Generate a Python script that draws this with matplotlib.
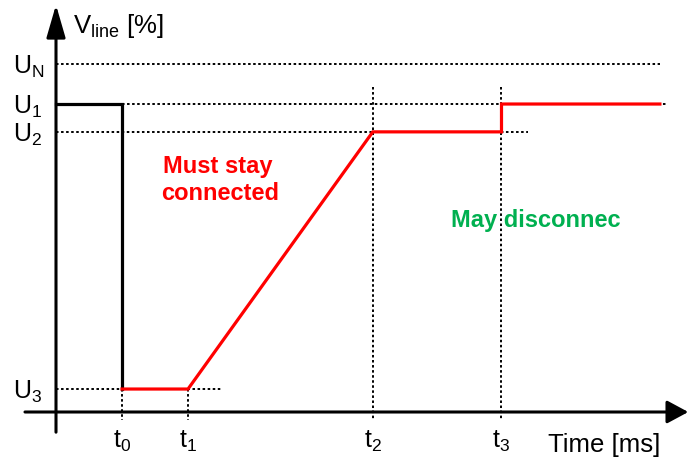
import matplotlib
matplotlib.use("Agg")
import matplotlib.pyplot as plt

plt.rcParams['font.family'] = ['Liberation Sans', 'DejaVu Sans']
plt.rcParams['mathtext.fontset'] = 'custom'
plt.rcParams['mathtext.rm'] = 'Liberation Sans'
plt.rcParams['mathtext.it'] = 'Liberation Sans'

# tiempos caracteristicos (ms) y niveles de tension (%)
t_names = ["t_0", "t_1", "t_2", "t_3"]
t_vals = [10, 20, 48, 67.5]
t_end = 91.5
u_names = ["U_N", "U_1", "U_2", "U_3"]
u_vals = [100, 88.5, 80.5, 6.6]

UN, U1, U2, U3 = u_vals
t0, t1, t2, t3 = t_vals

# curva negra (antes de la falla) y curva roja (perfil minimo)
black_t = [0, t0, t0]
black_v = [U1, U1, U3]
red_t = [t0, t1, t2, t3, t3, t_end]
red_v = [U3, U3, U2, U2, U1, U1]

fig = plt.figure(figsize=(6.89, 4.59), dpi=100)
ax = fig.add_axes([0, 0, 1, 1])
# escala: 6.6 px por ms, 3.48 px por %
ax.set_xlim(-56 / 6.6, (689 - 56) / 6.6)
ax.set_ylim(-(459 - 412) / 3.48, 412 / 3.48)
ax.axis('off')

dot = dict(color='black', lw=1.4, ls=(0, (1.3, 1.3)))
ax.plot([0, t_end], [UN, UN], **dot)
ax.plot([t0, t_end + 1.1], [U1, U1], **dot)
ax.plot([0, t3 + 4], [U2, U2], **dot)
ax.plot([0, t1 + 5.2], [U3, U3], **dot)
for t in [t0, t1]:
    ax.plot([t, t], [U3, -2.3], **dot)
for t in [t2, t3]:
    ax.plot([t, t], [93.4, -2.3], **dot)

# ejes con flechas
ax.annotate('', xy=(0, 117), xytext=(0, -5.8),
            arrowprops=dict(arrowstyle='-|>,head_length=20,head_width=5.8',
                            mutation_scale=1, color='black', lw=2.2,
                            shrinkA=0, shrinkB=0))
ax.annotate('', xy=(95.8, 0), xytext=(-4.7, 0),
            arrowprops=dict(arrowstyle='-|>,head_length=13,head_width=7',
                            mutation_scale=1, color='black', lw=2.2,
                            shrinkA=0, shrinkB=0))

ax.plot(black_t, black_v, color='black', lw=2.3, solid_joinstyle='miter')
ax.plot(red_t, red_v, color='#ff0000', lw=2.3, solid_joinstyle='miter')

for name, v in zip(u_names, u_vals):
    ax.text(-6.5, v - 2.9, r'$\mathrm{%s}$' % name, fontsize=18,
            ha='left', va='baseline')
for name, t in zip(t_names, t_vals):
    ax.text(t, -10.3, r'$\mathrm{%s}$' % name, fontsize=18,
            ha='center', va='baseline')

ax.text(2.6, 108.9, r'$\mathrm{V_{line}}$ [%]', fontsize=18.5, ha='left', va='baseline')
ax.text(74.5, -11.4, 'Time [ms]', fontsize=18.5, ha='left', va='baseline')

ax.text(24.5, (412 - 173) / 3.48, 'Must stay', fontsize=17, fontweight='bold',
        color='#ff0000', ha='center', va='baseline')
ax.text(24.9, (412 - 200) / 3.48, 'connected', fontsize=17, fontweight='bold',
        color='#ff0000', ha='center', va='baseline')
ax.text(72.7, 53.2, 'May disconnec', fontsize=17, fontweight='bold',
        color='#00b050', ha='center', va='baseline')

fig.savefig('out.png', dpi=100)
